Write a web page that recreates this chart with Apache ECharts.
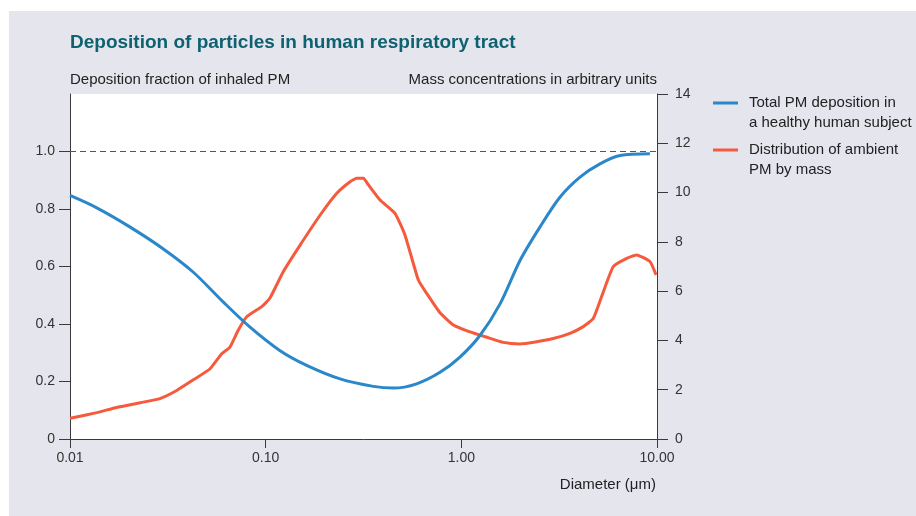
<!DOCTYPE html>
<html>
<head>
<meta charset="utf-8">
<title>Deposition of particles in human respiratory tract</title>
<script src="https://cdn.jsdelivr.net/npm/echarts@6/dist/echarts.min.js"></script>
<style>
  html, body { margin: 0; padding: 0; background: #fff; }
  #chart { width: 916px; height: 516px; }
</style>
</head>
<body>
<div id="chart"></div>
<script>
// series names (legend)
const seriesNames = [
  'Total PM deposition in\na healthy human subject',
  'Distribution of ambient\nPM by mass'
];

// blue curve: deposition fraction vs diameter (um)
const depDiameter = [0.01, 0.0137, 0.0203, 0.030, 0.0427, 0.0608, 0.0832, 0.118, 0.162, 0.240,
  0.355, 0.449, 0.591, 0.778, 0.984, 1.245, 1.577, 1.995, 2.52, 3.19, 4.04, 5.11, 6.47, 9.2];
const depFraction = [0.847, 0.804, 0.737, 0.661, 0.580, 0.476, 0.389, 0.308, 0.256, 0.209,
  0.183, 0.177, 0.192, 0.232, 0.285, 0.36, 0.470, 0.621, 0.737, 0.841, 0.911, 0.957, 0.986, 0.992];

// red curve: ambient PM mass distribution vs diameter (um)
const massDiameter = [0.01, 0.0137, 0.0173, 0.0228, 0.0288, 0.0351, 0.0427, 0.052, 0.0596, 0.0657,
  0.0725, 0.080, 0.0955, 0.105, 0.123, 0.150, 0.190, 0.231, 0.270, 0.292, 0.316, 0.335, 0.384,
  0.458, 0.515, 0.603, 0.665, 0.778, 0.910, 1.107, 1.348, 1.637, 1.994, 2.43, 2.95, 3.59, 4.20,
  4.72, 5.21, 5.98, 7.00, 7.87, 9.2, 9.89];
const massValue = [0.84, 1.07, 1.28, 1.47, 1.64, 1.97, 2.40, 2.85, 3.46, 3.73,
  4.42, 4.96, 5.37, 5.71, 6.79, 7.87, 9.09, 9.97, 10.44, 10.58, 10.58, 10.31, 9.70,
  9.16, 8.28, 6.45, 5.91, 5.12, 4.63, 4.35, 4.13, 3.92, 3.86, 3.95, 4.08, 4.29, 4.56,
  4.89, 5.78, 7.00, 7.33, 7.47, 7.20, 6.66];

// axis ticks
const xTickLabels = ['0.01', '0.10', '1.00', '10.00'];
const leftTicks = [0, 0.2, 0.4, 0.6, 0.8, 1.0];
const rightTicks = [0, 2, 4, 6, 8, 10, 12, 14];
const referenceLevel = 1.0;

const FONT = '"Liberation Sans", Arial, sans-serif';
const BLUE = '#2a87c9';
const RED = '#f65a3d';
const AXIS = '#3a3a3a';

const chart = echarts.init(document.getElementById('chart'));

const option = {
  animation: false,
  backgroundColor: '#fff',
  textStyle: { fontFamily: FONT },
  graphic: [
    { type: 'rect', z: -10, shape: { x: 9, y: 11, width: 907, height: 505 }, style: { fill: '#e5e6ed' } },
    { type: 'text', style: { x: 70, y: 43, text: 'Deposition of particles in human respiratory tract',
      font: 'bold 19px ' + FONT, fill: '#0e6170', align: 'left', verticalAlign: 'middle' } },
    { type: 'text', style: { x: 70, y: 80, text: 'Deposition fraction of inhaled PM',
      font: '15px ' + FONT, fill: '#222', align: 'left', verticalAlign: 'middle' } },
    { type: 'text', style: { x: 657, y: 80, text: 'Mass concentrations in arbitrary units',
      font: '15px ' + FONT, fill: '#222', align: 'right', verticalAlign: 'middle' } },
    { type: 'text', style: { x: 656, y: 485, text: 'Diameter (\u03bcm)',
      font: '15px ' + FONT, fill: '#222', align: 'right', verticalAlign: 'middle' } }
  ],
  legend: {
    orient: 'vertical',
    left: 713,
    top: 73,
    padding: 0,
    itemGap: -13,
    itemWidth: 25,
    itemHeight: 3,
    icon: 'rect',
    selectedMode: false,
    data: seriesNames,
    // leading blank line keeps the icon level with the first text line
    formatter: (name) => '\n' + name,
    textStyle: { fontSize: 15, fontFamily: FONT, color: '#222', lineHeight: 20, padding: [0, 0, 0, 6] }
  },
  grid: {
    left: 70, right: 259, top: 94, bottom: 77,
    show: true, backgroundColor: '#fff', borderWidth: 0
  },
  xAxis: {
    type: 'log',
    logBase: 10,
    min: 0.01,
    max: 10,
    axisLine: { show: true, lineStyle: { color: AXIS, width: 1 } },
    axisTick: { show: true, inside: false, length: 9, lineStyle: { color: AXIS } },
    axisLabel: {
      margin: 12, fontSize: 14, color: '#333',
      formatter: (v) => xTickLabels[Math.round(Math.log10(v)) + 2]
    },
    splitLine: { show: false },
    minorTick: { show: false }
  },
  yAxis: [
    {
      type: 'value',
      position: 'left',
      min: 0,
      max: 1.2,
      interval: 0.2,
      axisLine: { show: true, lineStyle: { color: AXIS, width: 1 } },
      axisTick: { show: true, length: 11, customValues: leftTicks, lineStyle: { color: AXIS } },
      axisLabel: {
        margin: 15, fontSize: 14, color: '#333', customValues: leftTicks,
        formatter: (v) => (v === 0 ? '0' : v.toFixed(1))
      },
      splitLine: { show: false }
    },
    {
      type: 'value',
      position: 'right',
      min: 0,
      max: 14,
      interval: 2,
      axisLine: { show: true, lineStyle: { color: AXIS, width: 1 } },
      axisTick: { show: true, length: 11, customValues: rightTicks, lineStyle: { color: AXIS } },
      axisLabel: { margin: 18, fontSize: 14, color: '#333', customValues: rightTicks },
      splitLine: { show: false }
    }
  ],
  series: [
    {
      name: seriesNames[0],
      type: 'line',
      yAxisIndex: 0,
      color: BLUE,
      showSymbol: false,
      smooth: 0.3,
      lineStyle: { width: 3, color: BLUE },
      data: depDiameter.map((d, i) => [d, depFraction[i]]),
      markLine: {
        silent: true,
        symbol: 'none',
        label: { show: false },
        lineStyle: { color: '#555', width: 1, type: [6, 4] },
        data: [{ yAxis: referenceLevel }]
      },
      z: 3
    },
    {
      name: seriesNames[1],
      type: 'line',
      yAxisIndex: 1,
      color: RED,
      showSymbol: false,
      smooth: 0.15,
      lineStyle: { width: 3, color: RED },
      data: massDiameter.map((d, i) => [d, massValue[i]]),
      z: 2
    }
  ]
};

chart.setOption(option);
</script>
</body>
</html>
